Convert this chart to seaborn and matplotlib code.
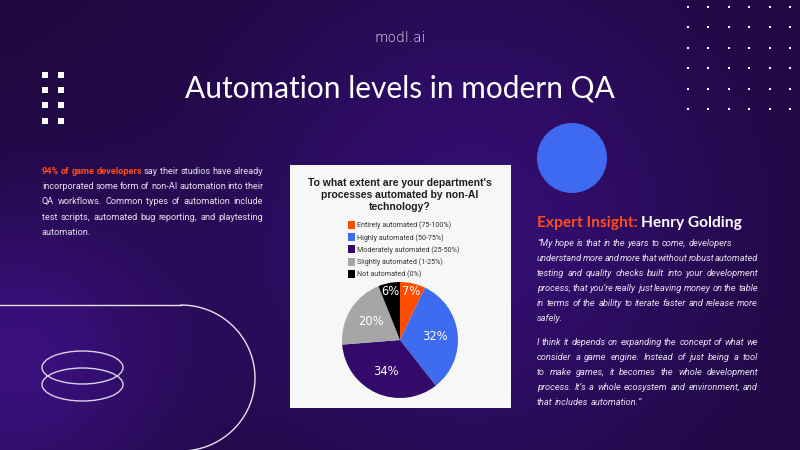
import numpy as np
import matplotlib.pyplot as plt
import seaborn as sns
from matplotlib.patches import Rectangle, Ellipse, Circle

# ---- data ----
categories = ['Entirely automated (75-100%)', 'Highly automated (50-75%)',
              'Moderately automated (25-50%)', 'Slightly automated (1-25%)',
              'Not automated (0%)']
shares = [7, 32, 34, 20, 6]
slice_colors = ['#ff4d00', '#3d6cf0', '#33096a', '#a6a6a6', '#000000']

page_title = 'Automation levels in modern QA'
chart_question = "To what extent are your department's\nprocesses automated by non-AI\ntechnology?"

left_lines = [
    '94% of game developers say their studios have already',
    'incorporated some form of non-AI automation into their',
    'QA workflows. Common types of automation include',
    'test scripts, automated bug reporting, and playtesting',
    'automation.',
]
quote_p1 = [
    '\u201cMy hope is that in the years to come, developers',
    'understand more and more that without robust automated',
    'testing and quality checks built into your development',
    'process, that you\u2019re really just leaving money on the table',
    'in terms of the ability to iterate faster and release more',
    'safely.',
]
quote_p2 = [
    'I think it depends on expanding the concept of what we',
    'consider a game engine. Instead of just being a tool',
    'to make games, it becomes the whole development',
    'process. It\u2019s a whole ecosystem and environment, and',
    'that includes automation.\u201d',
]

# ---- style ----
sns.set_style('white')
plt.rcParams['font.family'] = ['Roboto', 'DejaVu Sans']
palette = sns.color_palette(slice_colors)

W, H = 800, 450
fig = plt.figure(figsize=(8, 4.5), dpi=100)
bg = fig.add_axes([0, 0, 1, 1])
bg.set_xlim(0, W)
bg.set_ylim(H, 0)
bg.axis('off')

# background with soft purple glows
yy, xx = np.mgrid[0:H, 0:W]
base = np.array([31, 8, 62]) / 255
glow1 = np.exp(-((xx - 15) ** 2 + (yy - 360) ** 2) / (2 * 110 ** 2))
glow2 = np.exp(-((xx - 470) ** 2 + (yy - 230) ** 2) / (2 * 180 ** 2))
img = base + glow1[..., None] * np.array([26, 8, 62]) / 255 + glow2[..., None] * np.array([20, 6, 52]) / 255
bg.imshow(np.clip(img, 0, 1), extent=[0, W, H, 0], aspect='auto', zorder=0)

# decorations
dx, dy = np.meshgrid(np.linspace(688, 790, 6), np.linspace(6.5, 109, 6))
bg.scatter(dx.ravel(), dy.ravel(), s=3, marker='s', color='white', lw=0, zorder=2)
sx, sy = np.meshgrid([44.5, 60.5], [74.5, 90, 105, 120.5])
bg.scatter(sx.ravel(), sy.ravel(), s=22, marker='s', color='white', lw=0, zorder=2)

bg.add_patch(Circle((572, 158), 35, fc='#3d6af0', ec='none', zorder=2))

bg.plot([0, 181], [305, 305], color='#e8e2f0', lw=1, zorder=2)
t = np.linspace(-np.pi / 2, np.pi / 2, 200)
bg.plot(181 + 74 * np.cos(t), 378 + 73 * np.sin(t), color='#e8e2f0', lw=1, zorder=2)
for cy in [367.5, 384.5]:
    bg.add_patch(Ellipse((82.5, cy), 81, 33, fill=False, ec='#d9d2e6', lw=1, zorder=2))

# headings
bg.text(400, 38, 'modl.ai', ha='center', va='center', fontsize=10, color='#f0eaf6',
        family='DejaVu Sans', fontweight='light', zorder=3)
bg.text(400, 88, page_title, ha='center', va='center', fontsize=21.5, color='white',
        family='Lato', fontweight='normal', zorder=3)

renderer = fig.canvas.get_renderer()


def width_of(txt):
    return txt.get_window_extent(renderer).width


def justify(lines, x0, x1, y0, step, no_stretch=(), styles=None, **kw):
    # place each line word by word so it fills x0..x1 like a justified paragraph
    probe1 = bg.text(0, 0, 'a a', **kw)
    probe2 = bg.text(0, 0, 'aa', **kw)
    space = width_of(probe1) - width_of(probe2)
    probe1.remove()
    probe2.remove()
    for i, line in enumerate(lines):
        y = y0 + i * step + 3
        words = line.split(' ')
        texts = []
        for j, w in enumerate(words):
            opts = dict(kw)
            if styles:
                opts.update(styles(i, j))
            texts.append(bg.text(0, y, w, va='baseline', ha='left', zorder=3, **opts))
        widths = [width_of(tx) for tx in texts]
        if i == len(lines) - 1 or i in no_stretch:
            gap = space
        else:
            gap = (x1 - x0 - sum(widths)) / max(len(words) - 1, 1)
        x = x0
        for tx, wd in zip(texts, widths):
            tx.set_x(x)
            x += wd + gap


def left_style(i, j):
    if i == 0 and j < 4:
        return dict(color='#ff4d1a', fontweight='bold')
    return {}


body = dict(fontsize=6.6, color='#e6e0ee')
justify(left_lines, 42, 263, 171, 15.2, styles=left_style, **body)

quote = dict(fontsize=6.7, color='#e6e0ee', style='italic')
justify(quote_p1, 537, 758, 243, 15, no_stretch=(0,), **quote)
justify(quote_p2, 537, 758, 342, 15, **quote)

h1 = bg.text(537, 223, 'Expert Insight: ', ha='left', va='center', fontsize=11.2,
             color='#ff4d1a', family='Lato', fontweight='bold', zorder=3)
bg.text(537 + width_of(h1), 223, 'Henry Golding', ha='left', va='center', fontsize=11.2,
        color='white', family='Lato', fontweight='bold', zorder=3)

# chart panel
bg.add_patch(Rectangle((290, 165), 221, 243, fc='#f7f7f7', ec='none', zorder=2))
bg.text(400, 195, chart_question, ha='center', va='center', fontsize=7.5,
        fontweight='bold', family='Liberation Sans', color='#1e1e1e', linespacing=1.25, zorder=3)

pax = fig.add_axes([(400 - 58) / W, (H - 340 - 58) / H, 116 / W, 116 / H])
wedges, _, autotexts = pax.pie(shares, colors=palette, startangle=90, counterclock=False,
                               autopct='%.0f%%', pctdistance=0.6,
                               wedgeprops=dict(linewidth=0),
                               textprops=dict(color='white', fontsize=8.3, family='DejaVu Sans'))
for w, tx, v in zip(wedges, autotexts, shares):
    if v < 10:
        ang = np.deg2rad((w.theta1 + w.theta2) / 2)
        tx.set_position((0.86 * np.cos(ang), 0.86 * np.sin(ang)))
pax.set_xlim(-1, 1)
pax.set_ylim(-1, 1)

fig.legend(wedges, categories, loc='upper left', bbox_to_anchor=(348 / W, 1 - 221 / H),
           frameon=False, fontsize=5.1, handlelength=1.05, handleheight=1.35,
           handletextpad=0.2, labelspacing=0.55, borderpad=0, borderaxespad=0,
           labelcolor='#333333')

fig.savefig('out.png', dpi=100)
